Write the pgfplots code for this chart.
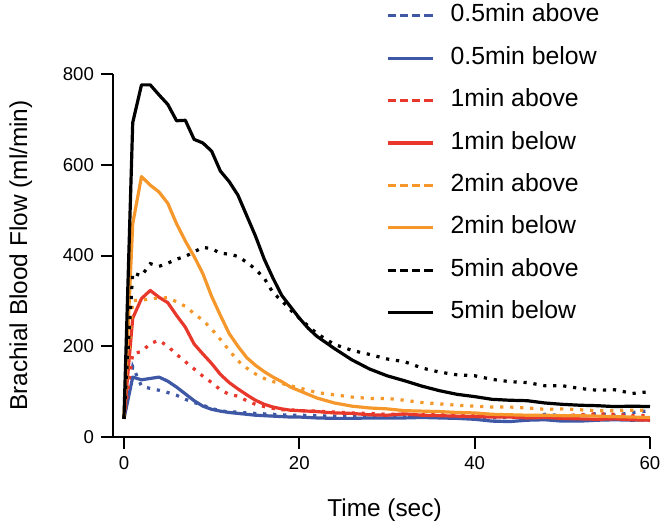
\documentclass[border=0pt]{standalone}
\usepackage{fontspec}
\setmainfont{Liberation Sans}
\usepackage{pgfplots}
\pgfplotsset{compat=1.18}
\definecolor{cblue}{RGB}{62,88,166}
\definecolor{cred}{RGB}{232,55,43}
\definecolor{corange}{RGB}{245,151,42}
\tikzset{
  solidline/.style={line width=1.6pt, line join=round, solid},
  dotline/.style={line width=1.6pt, line cap=butt, dash pattern=on 1.6pt off 3.4pt},
  legdash/.style={line width=1.6pt, line cap=butt, dash pattern=on 4.15pt off 1.95pt},
}
\begin{document}
\begin{tikzpicture}
\useasboundingbox (-56.5pt,-44pt) rectangle (273.5pt,218.5pt);
\begin{axis}[
  scale only axis, width=268.5pt, height=181.5pt,
  xmin=-1.25, xmax=60, ymin=0, ymax=800,
  axis lines=left, axis line style={-, line width=1pt},
  tick align=outside, major tick length=6pt,
  major tick style={line width=1pt, black},
  xtick={0,20,40,60}, ytick={0,200,400,600,800},
  /pgf/number format/assume math mode=true,
  ticklabel style={font=\fontsize{9.3}{11}\selectfont},
  label style={font=\fontsize{12.2}{14}\selectfont},
  xlabel={Time (sec)}, ylabel={Brachial Blood Flow (ml/min)},
  xlabel style={at={(rel axis cs:0.5056,-0.2196)}, anchor=base},
  ylabel style={at={(rel axis cs:-0.1601,0.5)}, anchor=base, rotate=0},
  legend style={draw=none, fill=none, at={(rel axis cs:0.5084,1.1934)}, anchor=north west,
    font=\fontsize{12.4}{14}\selectfont, row sep=9.2pt, column sep=8.2pt,
    inner sep=0pt, outer sep=0pt,
    nodes={inner sep=0pt, text height=9pt, text depth=3pt}},
  legend cell align=left,
  legend image code/.code={\draw[#1] (0pt,0pt) -- (22.5pt,0pt);},
]
\addlegendimage{cblue, legdash}\addlegendentry{0.5min above}
\addlegendimage{cblue, solidline}\addlegendentry{0.5min below}
\addlegendimage{cred, legdash}\addlegendentry{1min above}
\addlegendimage{cred, solidline}\addlegendentry{1min below}
\addlegendimage{corange, legdash}\addlegendentry{2min above}
\addlegendimage{corange, solidline}\addlegendentry{2min below}
\addlegendimage{black, legdash}\addlegendentry{5min above}
\addlegendimage{black, solidline}\addlegendentry{5min below}

% 0.5min above
\addplot[cblue, dotline, forget plot] coordinates {
(0,40)(1,155)(2,112)(3,107)(4,103)(5,98)(6,92)(7,83)(8,76)(9,70)(10,63)(11,58)(12,55)(13,55)(14,53)(15,52)(16,51)(17,50)(18,49)(19,48)(20,48)
(22,47)(24,46)(26,45)(28,45)(30,44)(32,44)(34,44)(36,43)(38,43)(40,44)(42,42)(44,43)(46,45)(48,50)(50,47)(52,46)(54,52)(56,48)(58,54)(60,58)};
% 0.5min below
\addplot[cblue, solidline, forget plot] coordinates {
(0,40)(1,132)(2,126)(3,129)(4,132)(5,123)(6,110)(7,95)(8,80)(9,68)(10,61)(11,57)(12,54)(13,52)(14,50)(15,48)(16,47)(17,46)(18,45)(19,44)(20,44)
(22,42)(24,41)(26,41)(28,42)(30,42)(32,42)(34,43)(36,42)(38,41)(40,39)(42,35)(44,34)(46,37)(48,38)(50,35)(52,35)(54,37)(56,38)(58,37)(60,38)};
% 1min above
\addplot[cred, dotline, forget plot] coordinates {
(0,40)(1,184)(2,188)(3,206)(4,213)(5,200)(6,182)(7,166)(8,150)(9,134)(10,120)(11,104)(12,94)(13,90)(14,80)(15,72)(16,67)(17,63)(18,60)(19,60)(20,58)
(22,57)(24,55)(26,53)(28,52)(30,50)(32,50)(34,49)(36,49)(38,48)(40,48)(42,47)(44,46)(46,47)(48,46)(50,47)(52,49)(54,51)(56,50)(58,47)(60,48)};
% 1min below
\addplot[cred, solidline, forget plot] coordinates {
(0,40)(1,262)(2,305)(3,323)(4,308)(5,296)(6,268)(7,242)(8,205)(9,183)(10,162)(11,138)(12,120)(13,106)(14,93)(15,81)(16,72)(17,66)(18,62)(19,59)(20,58)
(22,56)(24,53)(26,52)(28,49)(30,48)(32,51)(34,48)(36,47)(38,46)(40,45)(42,44)(44,44)(46,42)(48,43)(50,41)(52,40)(54,39)(56,40)(58,38)(60,37)};
% 2min above
\addplot[corange, dotline, forget plot] coordinates {
(0,40)(1,301)(2,301)(3,305)(4,306)(5,307)(6,298)(7,288)(8,272)(9,257)(10,238)(11,215)(12,191)(13,168)(14,152)(15,139)(16,129)(17,122)(18,118)(19,113)(20,108)
(22,98)(24,93)(26,88)(28,85)(30,85)(32,81)(34,76)(36,73)(38,70)(40,68)(42,66)(44,66)(46,64)(48,61)(50,62)(52,60)(54,58)(56,58)(58,59)(60,59)};
% 2min below
\addplot[corange, solidline, forget plot] coordinates {
(0,40)(1,470)(2,574)(3,555)(4,540)(5,515)(6,470)(7,432)(8,398)(9,360)(10,310)(11,268)(12,228)(13,200)(14,175)(15,158)(16,144)(17,132)(18,122)(19,110)(20,102)
(22,86)(24,75)(26,68)(28,64)(30,62)(32,58)(34,57)(36,56)(38,54)(40,53)(42,50)(44,49)(46,48)(48,48)(50,47)(52,47)(54,46)(56,45)(58,44)(60,43)};
% 5min above
\addplot[black, dotline, forget plot] coordinates {
(0,40)(1,362)(2,355)(3,382)(4,376)(5,383)(6,392)(7,398)(8,408)(9,418)(10,415)(11,405)(12,403)(13,398)(14,385)(15,370)(16,350)(17,318)(18,300)(19,280)(20,262)
(22,228)(24,204)(26,191)(28,182)(30,172)(32,166)(34,152)(36,143)(38,137)(40,135)(42,127)(44,122)(46,120)(48,113)(50,113)(52,107)(54,103)(56,104)(58,96)(60,100)};
% 5min below
\addplot[black, solidline, forget plot] coordinates {
(0,40)(1,693)(2,776)(3,776)(4,754)(5,733)(6,697)(7,698)(8,656)(9,648)(10,630)(11,586)(12,563)(13,533)(14,488)(15,443)(16,392)(17,350)(18,312)(19,287)(20,262)
(21,240)(22,222)(24,195)(26,170)(28,150)(30,135)(32,124)(34,112)(36,102)(38,94)(40,89)(42,83)(44,81)(46,80)(48,75)(50,72)(52,70)(54,69)(56,67)(58,68)(60,67)};
\end{axis}
\end{tikzpicture}
\end{document}
